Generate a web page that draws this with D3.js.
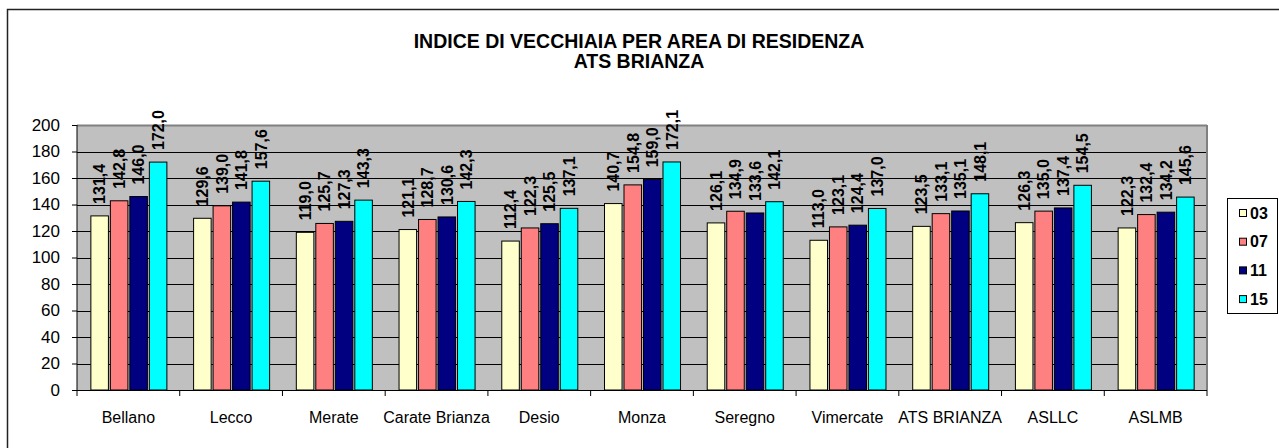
<!DOCTYPE html>
<html>
<head>
<meta charset="utf-8">
<script src="https://cdn.jsdelivr.net/npm/d3@7"></script>
<style>
  body { margin: 0; background: #fff; }
  svg { display: block; font-family: "Liberation Sans", Arial, sans-serif; }
</style>
</head>
<body>
<div id="chart"></div>
<script>
// chart values
var categories = ["Bellano", "Lecco", "Merate", "Carate Brianza", "Desio", "Monza",
    "Seregno", "Vimercate", "ATS BRIANZA", "ASLLC", "ASLMB"];
var seriesNames = ["03", "07", "11", "15"];
var v03 = [131.4, 129.6, 119.0, 121.1, 112.4, 140.7, 126.1, 113.0, 123.5, 126.3, 122.3];
var v07 = [142.8, 139.0, 125.7, 128.7, 122.3, 154.8, 134.9, 123.1, 133.1, 135.0, 132.4];
var v11 = [146.0, 141.8, 127.3, 130.6, 125.5, 159.0, 133.6, 124.4, 135.1, 137.4, 134.2];
var v15 = [172.0, 157.6, 143.3, 142.3, 137.1, 172.1, 142.1, 137.0, 148.1, 154.5, 145.6];
var yTicks = [0, 20, 40, 60, 80, 100, 120, 140, 160, 180, 200];
var titleLines = ["INDICE DI VECCHIAIA PER AREA DI RESIDENZA", "ATS BRIANZA"];

var colors = ["#FFFFCC", "#FF8080", "#000080", "#00FFFF"];
var allValues = [v03, v07, v11, v15];

var W = 1279, H = 448;
var plot = { left: 77, right: 1207, top: 125, bottom: 390 };

var svg = d3.select("#chart")
    .append("svg")
    .attr("width", W)
    .attr("height", H);

// outer frame (runs off the right and bottom of the picture)
svg.append("rect")
    .attr("x", 7.5).attr("y", 9.5)
    .attr("width", W + 20).attr("height", H + 20)
    .attr("fill", "none")
    .attr("stroke", "#222")
    .attr("stroke-width", 1.5);

// title
svg.selectAll(".title")
    .data(titleLines)
    .enter().append("text")
    .attr("class", "title")
    .attr("x", 639)
    .attr("y", function(d, i) { return 43 + i * 20; })
    .attr("text-anchor", "middle")
    .attr("dominant-baseline", "middle")
    .style("font-size", "19.5px")
    .style("font-weight", "bold")
    .text(function(d) { return d; });

// scales
var x0 = d3.scaleBand().domain(categories).range([plot.left, plot.right]);
var bw = x0.bandwidth();
var x1 = d3.scaleBand().domain(seriesNames).range([bw * 0.135, bw * 0.875]).paddingInner(0.1);
var y = d3.scaleLinear().domain([0, 200]).range([plot.bottom, plot.top]);

// plot background
svg.append("rect")
    .attr("x", plot.left).attr("y", plot.top)
    .attr("width", plot.right - plot.left)
    .attr("height", plot.bottom - plot.top)
    .attr("fill", "#C0C0C0");

// gridlines
svg.append("g")
    .selectAll("line")
    .data(yTicks.filter(function(d) { return d > 0; }))
    .enter().append("line")
    .attr("x1", plot.left).attr("x2", plot.right)
    .attr("y1", function(d) { return Math.round(y(d)) + 0.5; })
    .attr("y2", function(d) { return Math.round(y(d)) + 0.5; })
    .attr("stroke", function(d) { return d === 200 ? "#808080" : "#000"; })
    .attr("stroke-width", function(d) { return d === 200 ? 2 : 1; });

// right border of plot
svg.append("line")
    .attr("x1", plot.right).attr("x2", plot.right)
    .attr("y1", plot.top).attr("y2", plot.bottom)
    .attr("stroke", "#808080").attr("stroke-width", 2);

// bars
var fmt = function(v) { return d3.format(".1f")(v).replace(".", ","); };

seriesNames.forEach(function(s, si) {
    var g = svg.append("g");
    var rows = categories.map(function(c, i) { return { cat: c, v: allValues[si][i] }; });

    g.selectAll("rect")
        .data(rows)
        .enter().append("rect")
        .attr("x", function(d) { return x0(d.cat) + x1(s); })
        .attr("y", function(d) { return y(d.v); })
        .attr("width", x1.bandwidth())
        .attr("height", function(d) { return y(0) - y(d.v); })
        .attr("fill", colors[si])
        .attr("stroke", "#000")
        .attr("stroke-width", 1);

    g.selectAll("text")
        .data(rows)
        .enter().append("text")
        .attr("transform", function(d) {
            var cx = x0(d.cat) + x1(s) + x1.bandwidth() / 2;
            return "translate(" + cx + "," + (y(d.v) - 12) + ") rotate(-90)";
        })
        .attr("dy", "0.36em")
        .attr("text-anchor", "start")
        .style("font-size", "16px")
        .style("font-weight", "bold")
        .text(function(d) { return fmt(d.v); });
});

// y axis
var yAxis = svg.append("g")
    .attr("transform", "translate(" + plot.left + ",0)")
    .call(d3.axisLeft(y).tickValues(yTicks).tickSize(5).tickPadding(12));
yAxis.select(".domain").attr("stroke", "#000").attr("d", "M0," + plot.top + "V" + plot.bottom);
yAxis.selectAll("text").style("font-size", "17px").attr("fill", "#000")
    .style("font-family", "'Liberation Sans', Arial, sans-serif");

// x axis
var xAxis = svg.append("g")
    .attr("transform", "translate(0," + plot.bottom + ")")
    .call(d3.axisBottom(x0).tickSize(0).tickPadding(22));
xAxis.select(".domain").remove();
xAxis.append("line")
    .attr("x1", plot.left - 5).attr("x2", plot.right)
    .attr("y1", 0.5).attr("y2", 0.5)
    .attr("stroke", "#000");
xAxis.selectAll(".bound")
    .data(categories.concat(["end"]))
    .enter().append("line")
    .attr("class", "bound")
    .attr("x1", function(d, i) { return plot.left + i * bw; })
    .attr("x2", function(d, i) { return plot.left + i * bw; })
    .attr("y1", 0).attr("y2", 6)
    .attr("stroke", "#000");
xAxis.selectAll(".tick text").style("font-size", "16px").attr("fill", "#000")
    .style("font-family", "'Liberation Sans', Arial, sans-serif");

// legend
var leg = svg.append("g");
leg.append("rect")
    .attr("x", 1227.5).attr("y", 198.5)
    .attr("width", 50).attr("height", 115)
    .attr("fill", "#fff").attr("stroke", "#000");
var items = leg.selectAll(".item")
    .data(seriesNames)
    .enter().append("g")
    .attr("transform", function(d, i) { return "translate(1239," + (213 + i * 28.7) + ")"; });
items.append("rect")
    .attr("x", 0.5).attr("y", -3.5)
    .attr("width", 7).attr("height", 7)
    .attr("fill", function(d, i) { return colors[i]; })
    .attr("stroke", "#000");
items.append("text")
    .attr("x", 11).attr("dy", "0.36em")
    .style("font-size", "16px")
    .style("font-weight", "bold")
    .text(function(d) { return d; });
</script>
</body>
</html>
